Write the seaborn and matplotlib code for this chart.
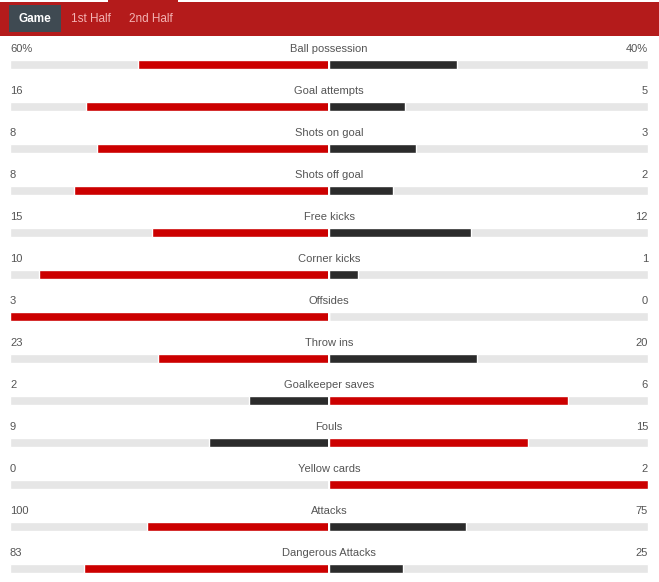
import pandas as pd
import seaborn as sns
import matplotlib.pyplot as plt
from matplotlib.patches import Rectangle

stats = ['Ball possession', 'Goal attempts', 'Shots on goal', 'Shots off goal',
         'Free kicks', 'Corner kicks', 'Offsides', 'Throw ins', 'Goalkeeper saves',
         'Fouls', 'Yellow cards', 'Attacks', 'Dangerous Attacks']
home = [60, 16, 8, 8, 15, 10, 3, 23, 2, 9, 0, 100, 83]
away = [40, 5, 3, 2, 12, 1, 0, 20, 6, 15, 2, 75, 25]
home_labels = ['60%', '16', '8', '8', '15', '10', '3', '23', '2', '9', '0', '100', '83']
away_labels = ['40%', '5', '3', '2', '12', '1', '0', '20', '6', '15', '2', '75', '25']
tabs = ['Game', '1st Half', '2nd Half']

RED = '#cc0000'
DARK = '#2b2b2b'
TRACK = '#e6e6e6'
TEXT = '#555555'

W, H = 659, 582


def px_x(p):
    # pixel column -> data x (track spans -1..1)
    return (p - 329) / 319


def px_y(p):
    # pixel row -> data y (category index)
    return (p - 64.5) / 42


def load_data():
    df = pd.DataFrame({'stat': stats, 'home': home, 'away': away})
    total = (df['home'] + df['away']).replace(0, 1)
    df['left'] = -df['home'] / total
    df['right'] = df['away'] / total
    df['left_c'] = ['red' if h > a else 'dark' for h, a in zip(home, away)]
    df['right_c'] = ['red' if a > h else 'dark' for h, a in zip(home, away)]
    df['track_l'] = -1.0
    df['track_r'] = 1.0
    return df


def draw(df):
    sns.set_style('white')
    plt.rcParams['font.family'] = ['Liberation Sans', 'DejaVu Sans']
    fig = plt.figure(figsize=(W / 100, H / 100), dpi=100)
    ax = fig.add_axes([0, 0, 1, 1])
    pal = {'red': RED, 'dark': DARK}
    bw = 9 / 42

    # grey tracks
    sns.barplot(data=df, x='track_l', y='stat', color=TRACK, width=bw,
                orient='h', errorbar=None, ax=ax, saturation=1)
    sns.barplot(data=df, x='track_r', y='stat', color=TRACK, width=bw,
                orient='h', errorbar=None, ax=ax, saturation=1)
    # values
    sns.barplot(data=df, x='left', y='stat', hue='left_c', palette=pal, width=bw,
                orient='h', errorbar=None, ax=ax, dodge=False, legend=False, saturation=1)
    sns.barplot(data=df, x='right', y='stat', hue='right_c', palette=pal, width=bw,
                orient='h', errorbar=None, ax=ax, dodge=False, legend=False, saturation=1)

    # white gap in the middle
    for i in range(len(stats)):
        ax.fill_between([px_x(328), px_x(330)], i - bw / 2 - 0.01, i + bw / 2 + 0.01,
                        color='white', lw=0, zorder=5)

    # labels
    for i, s in enumerate(stats):
        ty = i + px_y(49) - px_y(64.5)
        ax.text(px_x(10), ty, home_labels[i], ha='left', va='center', fontsize=8, color=TEXT)
        ax.text(px_x(329), ty, s, ha='center', va='center', fontsize=8, color=TEXT)
        ax.text(px_x(648), ty, away_labels[i], ha='right', va='center', fontsize=8, color=TEXT)

    # header band with tabs
    ax.add_patch(Rectangle((px_x(0), px_y(0)), px_x(W) - px_x(0), px_y(36) - px_y(0),
                           color='#b41b1b', lw=0, zorder=6))
    ax.add_patch(Rectangle((px_x(0), px_y(0)), px_x(108) - px_x(0), px_y(1.5) - px_y(0),
                           color='white', lw=0, zorder=7))
    ax.add_patch(Rectangle((px_x(178), px_y(0)), px_x(W) - px_x(178), px_y(1.5) - px_y(0),
                           color='white', lw=0, zorder=7))
    ax.add_patch(Rectangle((px_x(9), px_y(5)), px_x(61) - px_x(9), px_y(32) - px_y(5),
                           color='#3f4a52', lw=0, zorder=7))
    ax.text(px_x(35), px_y(19), tabs[0], ha='center', va='center', fontsize=8.5,
            color='white', fontweight='bold', zorder=8)
    ax.text(px_x(90.5), px_y(19), tabs[1], ha='center', va='center', fontsize=8.5,
            color='#f3b3b3', zorder=8)
    ax.text(px_x(150.5), px_y(19), tabs[2], ha='center', va='center', fontsize=8.5,
            color='#f3b3b3', zorder=8)

    ax.set_xlim(px_x(0), px_x(W))
    ax.set_ylim(px_y(H), px_y(0))
    ax.set_axis_off()
    fig.savefig('out.png', dpi=100)


if __name__ == "__main__":
    data = load_data()
    draw(data)
